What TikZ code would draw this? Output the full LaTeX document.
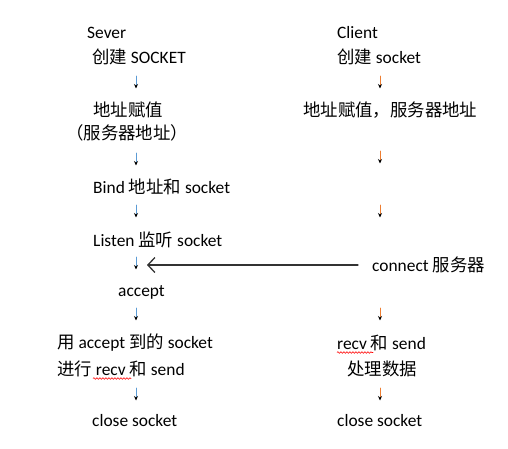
\documentclass[tikz,border=0pt]{standalone}
\usepackage{fontspec}
\setmainfont{Carlito}
\newfontfamily\zh{Noto Sans CJK SC}
\usetikzlibrary{arrows.meta,decorations.pathmorphing}

\definecolor{lblue}{RGB}{91,155,213}
\definecolor{rorange}{RGB}{237,125,49}

\tikzset{
  txt/.style={anchor=west,inner sep=0pt,font=\fontsize{17.4}{20}\selectfont},
  larr/.style={lblue,line width=0.9pt,-{Stealth[black,length=4.5pt,width=4pt]}},
  rarr/.style={rorange,line width=0.9pt,-{Stealth[black,length=4.5pt,width=4pt]}},
  conn/.style={black!80,line width=1.3pt,-{Straight Barb[length=7pt,width=15pt,line width=1.3pt]}},
  squig/.style={red,line width=0.6pt,decorate,decoration={snake,amplitude=0.8pt,segment length=3pt}}
}

\begin{document}
\begin{tikzpicture}[x=1pt,y=-1pt,line cap=round,line join=round]
  \useasboundingbox (0,0) rectangle (508,448);
  % server side
  \node[txt] (sever) at (87,33) {Sever};
  \node[txt] (screate) at (92,57) {{\zh 创建} SOCKET};
  \node[txt] (saddr) at (93,110) {\zh 地址赋值};
  \node[txt] (saddrb) at (66,133) {\zh （服务器地址）};
  \node[txt] (sbind) at (93,187) {Bind {\zh 地址和} socket};
  \node[txt] (slisten) at (93,240) {Listen {\zh 监听} socket};
  \node[txt] (saccept) at (118,292) {accept};
  \node[txt] (suse) at (57,343) {{\zh 用} accept {\zh 到的} socket};
  \node[txt] (srecv) at (57,369) {{\zh 进行} recv {\zh 和} send};
  \node[txt] (sclose) at (92,421) {close socket};
  % client side
  \node[txt] (client) at (337,33) {Client};
  \node[txt] (ccreate) at (337,57) {{\zh 创建} socket};
  \node[txt] (caddr) at (303,110) {\zh 地址赋值，服务器地址};
  \node[txt] (cconnect) at (372,265) {connect {\zh 服务器}};
  \node[txt] (crecv) at (337,343) {recv {\zh 和} send};
  \node[txt] (cdata) at (347,369) {\zh 处理数据};
  \node[txt] (cclose) at (337,421) {close socket};

  \foreach \y in {76,153,205,257,308,388}
    \draw[larr] (136,\y) -- ++(0,12.5);
  \foreach \y in {76,151,205,308,388}
    \draw[rarr] (380,\y) -- ++(0,12.5);

  \coordinate (lstop) at (147,265);
  \draw[conn] ([xshift=-14pt]cconnect.west) -- (lstop);

  % spell-check marks
  \draw[squig] (93,378.5) -- (131,378.5);
  \draw[squig] (337,352.5) -- (373,352.5);
\end{tikzpicture}
\end{document}
